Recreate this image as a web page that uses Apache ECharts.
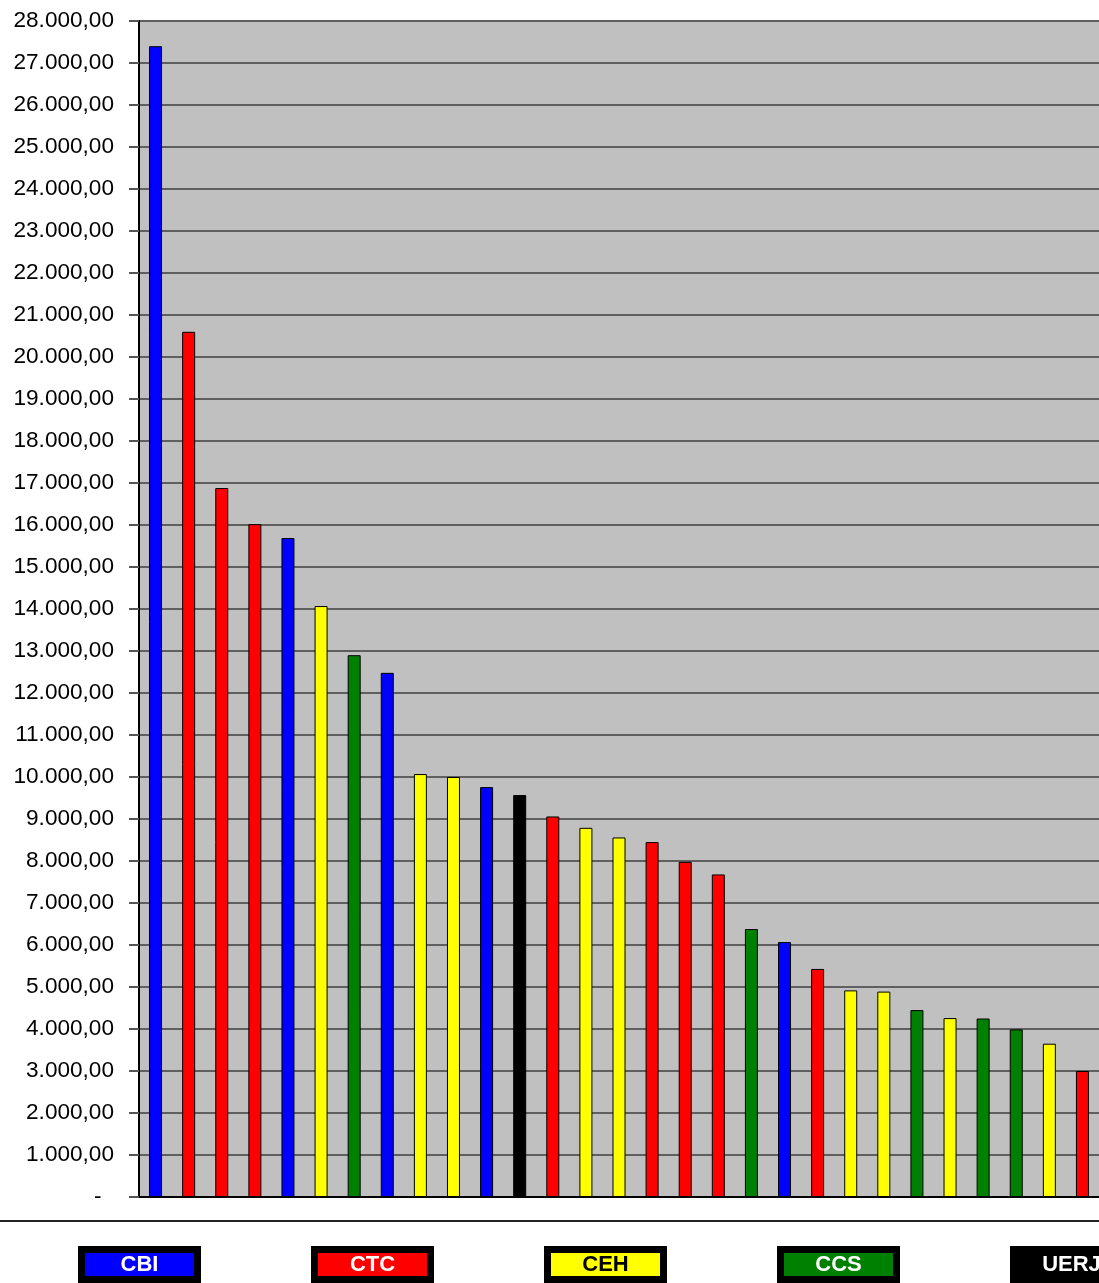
<!DOCTYPE html>
<html>
<head>
<meta charset="utf-8">
<script src="https://cdn.jsdelivr.net/npm/echarts@6/dist/echarts.min.js"></script>
<style>
  html, body { margin: 0; padding: 0; background: #fff; }
  #chart { width: 1099px; height: 1283px; }
</style>
</head>
<body>
<div id="chart"></div>
<script>
// one category per bar (no labels shown on the x axis)
const categories = ['1', '2', '3', '4', '5', '6', '7', '8', '9', '10', '11', '12', '13', '14', '15',
  '16', '17', '18', '19', '20', '21', '22', '23', '24', '25', '26', '27', '28', '29']
const values = [27400, 20600, 16880, 16020, 15690, 14070, 12900, 12480, 10070, 10000, 9760, 9570,
  9060, 8790, 8560, 8450, 7980, 7680, 6380, 6070, 5430, 4920, 4890, 4450, 4260, 4250, 3990, 3650, 3000]
const groups = ['CBI', 'CTC', 'CTC', 'CTC', 'CBI', 'CEH', 'CCS', 'CBI', 'CEH', 'CEH', 'CBI', 'UERJ',
  'CTC', 'CEH', 'CEH', 'CTC', 'CTC', 'CTC', 'CCS', 'CBI', 'CTC', 'CEH', 'CEH', 'CCS', 'CEH', 'CCS',
  'CCS', 'CEH', 'CTC']
const legendNames = ['CBI', 'CTC', 'CEH', 'CCS', 'UERJ']
const legendColors = ['#0000ff', '#ff0000', '#ffff00', '#008000', '#000000']
const legendText = ['#ffffff', '#ffffff', '#000000', '#ffffff', '#ffffff']

function colorOf(g) {
  return legendColors[legendNames.indexOf(g)]
}

function fmt(v) {
  if (v === 0) return '-  '
  const s = Math.round(v).toString().replace(/\B(?=(\d{3})+(?!\d))/g, '.')
  return s + ',00'
}

const legendGraphics = []
legendNames.forEach((name, i) => {
  const x = 78 + i * 233
  legendGraphics.push({
    type: 'rect',
    shape: { x: x, y: 1246, width: 123, height: 37 },
    style: { fill: '#000' },
  })
  legendGraphics.push({
    type: 'rect',
    shape: { x: x + 7, y: 1253, width: 109, height: 23 },
    style: { fill: legendColors[i] },
  })
  legendGraphics.push({
    type: 'text',
    x: x + 61.5,
    y: 1265,
    style: {
      text: name,
      fill: legendText[i],
      font: 'bold 22px "Liberation Sans", Arial, sans-serif',
      align: 'center',
      verticalAlign: 'middle',
    },
  })
})

const chart = echarts.init(document.getElementById('chart'), null, { renderer: 'canvas' })
chart.setOption({
  animation: false,
  backgroundColor: '#ffffff',
  grid: {
    left: 139,
    right: -3,
    top: 21,
    bottom: 86,
    show: true,
    backgroundColor: '#c0c0c0',
    borderWidth: 0,
  },
  xAxis: {
    type: 'category',
    data: categories,
    axisLine: { lineStyle: { color: '#000', width: 2 } },
    axisTick: { length: 10, lineStyle: { color: '#555', width: 2 } },
    axisLabel: { show: false },
  },
  yAxis: {
    type: 'value',
    min: 0,
    max: 28000,
    interval: 1000,
    axisLine: { show: true, lineStyle: { color: '#000', width: 2 } },
    axisTick: { show: true, length: 10, lineStyle: { color: '#555', width: 2 } },
    splitLine: { lineStyle: { color: '#5f5f5f', width: 2 } },
    axisLabel: {
      formatter: fmt,
      color: '#000',
      fontSize: 22.6,
      fontFamily: '"Liberation Sans", Arial, sans-serif',
      margin: 25,
    },
  },
  series: [
    {
      type: 'bar',
      barWidth: 13,
      data: values.map((v, i) => ({
        value: v,
        itemStyle: { color: colorOf(groups[i]) },
      })),
      itemStyle: { borderColor: '#000', borderWidth: 1 },
    },
  ],
  graphic: [
    {
      type: 'line',
      shape: { x1: 0, y1: 1221, x2: 1099, y2: 1221 },
      style: { stroke: '#222', lineWidth: 2 },
    },
  ].concat(legendGraphics),
})
</script>
</body>
</html>
